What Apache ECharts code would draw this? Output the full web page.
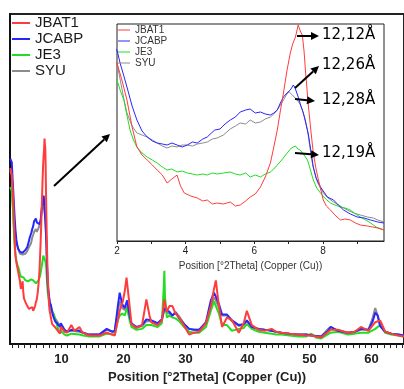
<!DOCTYPE html>
<html>
<head>
<meta charset="utf-8">
<script src="https://cdn.jsdelivr.net/npm/echarts@6/dist/echarts.min.js"></script>
<style>
  html, body { margin: 0; padding: 0; background: #fff; }
  #chart { width: 404px; height: 389px; }
</style>
</head>
<body>
<div id="chart"></div>
<script>
// series names
const names = ['JBAT1', 'JCABP', 'JE3', 'SYU'];
const colors = ['#ff3c3c', '#2626ff', '#22dd22', '#8c8c8c'];

// low angle part (2 - 9.8 °2θ), shown in the inset and in the main plot
const lowRed = [[1.75,185],[2.0,178],[2.15,160],[2.29,141],[2.44,114],[2.58,94],[2.73,86],[2.88,81],[3.03,76],[3.17,71],[3.32,66],[3.46,58],[3.6,62],[3.75,66],[3.85,55],[3.96,48],[4.15,45],[4.34,43],[4.5,40],[4.63,41],[4.78,37],[4.92,38],[5.1,37],[5.3,39],[5.45,35],[5.59,36],[5.75,40],[5.88,44],[6.03,47],[6.18,54],[6.32,64],[6.47,78],[6.57,94],[6.67,111],[6.76,130],[6.85,148],[6.95,170],[7.05,188],[7.12,197],[7.2,204],[7.28,216],[7.34,210],[7.4,206],[7.45,190],[7.49,171],[7.58,134],[7.65,110],[7.72,88],[7.8,72],[7.87,61],[8.01,41],[8.1,35],[8.22,31],[8.35,26],[8.51,21],[8.65,22],[8.8,21],[8.95,18],[9.09,16],[9.3,15],[9.45,14],[9.59,13],[9.78,11]];
const lowBlue = [[1.75,195],[2.0,191],[2.09,178],[2.2,165],[2.29,154],[2.44,135],[2.58,121],[2.73,110],[2.88,104],[3.03,100],[3.17,98],[3.32,97],[3.46,96],[3.6,98],[3.75,96],[3.9,94],[4.05,96],[4.2,99],[4.34,98],[4.5,102],[4.63,104],[4.75,108],[4.85,111],[5.0,112],[5.15,117],[5.3,121],[5.45,124],[5.59,129],[5.75,131],[5.88,132],[6.03,128],[6.18,129],[6.32,127],[6.47,126],[6.57,128],[6.67,131],[6.76,138],[6.85,144],[6.95,148],[7.05,151],[7.14,156],[7.2,152],[7.28,144],[7.35,136],[7.43,128],[7.5,118],[7.58,106],[7.65,90],[7.72,74],[7.8,63],[7.93,54],[8.13,44],[8.31,41],[8.45,36],[8.6,31],[8.8,27],[9.0,24],[9.2,23],[9.39,21],[9.6,19],[9.78,18]];
const lowGreen = [[1.75,165],[2.0,161],[2.1,150],[2.2,141],[2.3,124],[2.38,111],[2.48,101],[2.58,94],[2.73,88],[2.88,84],[3.03,81],[3.17,78],[3.32,74],[3.46,71],[3.6,72],[3.75,69],[3.9,70],[4.05,68],[4.2,67],[4.34,66],[4.5,67],[4.63,66],[4.78,68],[4.92,67],[5.1,68],[5.3,69],[5.45,67],[5.59,66],[5.75,68],[5.88,64],[6.03,66],[6.18,64],[6.32,67],[6.47,69],[6.57,72],[6.67,76],[6.8,81],[6.96,88],[7.08,93],[7.2,95],[7.27,92],[7.34,91],[7.45,86],[7.55,81],[7.63,72],[7.72,61],[7.82,53],[7.93,48],[8.08,42],[8.22,38],[8.35,36],[8.51,34],[8.65,33],[8.8,31],[8.95,27],[9.09,24],[9.25,21],[9.39,18],[9.55,14],[9.78,11]];
const lowGray = [[1.75,182],[2.0,178],[2.1,160],[2.2,142],[2.29,128],[2.44,115],[2.58,108],[2.73,106],[2.88,104],[3.03,101],[3.17,98],[3.32,95],[3.46,93],[3.6,95],[3.75,94],[3.9,96],[4.05,96],[4.2,95],[4.34,97],[4.5,98],[4.63,99],[4.78,102],[4.92,103],[5.1,106],[5.3,112],[5.45,115],[5.59,118],[5.75,117],[5.88,121],[6.03,118],[6.18,119],[6.32,122],[6.47,124],[6.57,127],[6.67,131],[6.76,136],[6.85,141],[6.95,147],[7.02,149],[7.11,146],[7.25,141],[7.33,137],[7.4,131],[7.48,122],[7.55,111],[7.62,94],[7.7,76],[7.78,66],[7.85,58],[8.01,48],[8.15,43],[8.31,39],[8.5,35],[8.71,31],[8.9,28],[9.09,26],[9.3,24],[9.47,23],[9.6,21],[9.78,19]];

// wide angle part (10 - 65 °2θ), main plot only
const wideRed = [[9.9,18],[10.5,13],[10.9,12],[11.6,20],[12.1,14],[12.9,18],[13.4,12],[14.5,9],[16.1,9],[17.3,12],[18.6,9],[19.4,35],[19.9,45],[20.2,55],[20.5,70],[20.8,52],[21.3,21],[22.1,17],[23.0,20],[23.7,47],[24.2,30],[24.5,23],[25.5,20],[26.2,25],[26.6,47],[27.0,34],[27.4,40],[27.9,40],[28.4,32],[29.0,28],[29.8,19],[30.6,10],[31.4,12],[32.2,13],[33.3,22],[34.1,40],[34.6,58],[34.9,67],[35.3,45],[35.9,18],[36.7,28],[37.5,25],[38.6,12],[39.4,22],[39.9,35],[40.7,20],[41.8,15],[42.8,14],[43.9,16],[44.6,13],[45.5,12],[46.8,11],[48.2,10],[49.5,9],[50.3,9],[51.9,7],[53.4,15],[54.6,15],[56.2,12],[57.3,13],[58.3,18],[59.5,14],[60.6,23],[61.4,25],[62.2,13],[63.2,11],[64.3,9],[65.2,8]];
const wideBlue = [[9.9,22],[10.5,15],[10.9,13],[11.6,15],[12.9,14],[13.5,12],[14.5,10],[16.1,10],[17.3,16],[18.2,13],[18.6,14],[19.1,40],[19.4,54],[19.8,42],[20.2,38],[20.6,46],[21.0,30],[21.3,22],[22.1,18],[23.0,20],[23.7,26],[24.5,25],[25.5,22],[26.2,26],[26.6,38],[27.0,35],[27.4,34],[27.9,30],[28.4,33],[29.0,27],[29.8,21],[30.6,16],[31.4,15],[32.2,15],[33.3,23],[34.1,46],[34.6,54],[34.9,50],[35.4,42],[35.9,31],[36.7,31],[37.5,25],[38.6,20],[39.4,21],[39.9,25],[40.7,18],[41.8,16],[42.8,15],[43.9,14],[44.6,13],[45.5,12],[46.8,11],[48.2,10],[49.5,10],[50.3,9],[51.9,8],[53.0,14],[53.4,18],[54.6,14],[56.2,12],[57.3,13],[58.3,16],[59.5,15],[60.2,24],[60.6,33],[61.0,30],[61.4,19],[62.2,13],[63.2,11],[64.3,10],[65.2,9]];
const wideGreen = [[9.9,14],[10.5,10],[10.9,9],[11.6,11],[12.9,10],[13.5,9],[14.5,8],[16.1,8],[17.3,11],[18.6,10],[19.1,25],[19.4,30],[19.8,32],[20.2,30],[20.6,38],[21.0,25],[21.3,18],[22.1,15],[23.0,16],[23.7,20],[24.5,20],[25.5,18],[26.2,22],[26.5,60],[26.6,77],[26.7,50],[27.0,28],[27.4,30],[27.9,28],[28.4,27],[29.0,24],[29.8,18],[30.6,13],[31.4,12],[32.2,12],[33.3,18],[34.1,35],[34.6,45],[34.9,47],[35.4,32],[35.9,20],[36.7,20],[37.5,14],[38.6,16],[39.4,17],[39.9,21],[40.7,16],[41.8,13],[42.8,12],[43.9,11],[44.6,10],[45.5,10],[46.8,9],[48.2,8],[49.5,8],[50.3,11],[51.0,7],[51.9,6],[53.4,12],[54.6,13],[56.2,10],[57.3,11],[58.3,12],[59.5,12],[60.6,16],[61.4,20],[61.8,17],[62.2,12],[63.2,10],[64.3,9],[65.2,8]];
const wideGray = [[9.9,20],[10.5,14],[10.9,13],[11.6,14],[12.9,13],[13.5,12],[14.5,10],[16.1,10],[17.3,15],[18.2,13],[18.6,13],[19.1,34],[19.4,45],[19.8,38],[20.2,36],[20.6,40],[21.0,28],[21.3,21],[22.1,17],[23.0,19],[23.7,24],[24.5,24],[25.5,21],[26.2,25],[26.6,36],[27.0,33],[27.4,32],[27.9,30],[28.4,34],[29.0,29],[29.8,21],[30.6,16],[31.4,15],[32.2,15],[33.3,21],[34.1,40],[34.6,49],[34.9,46],[35.4,38],[35.9,30],[36.7,30],[37.5,24],[38.6,19],[39.4,20],[39.9,24],[40.7,18],[41.8,16],[42.8,15],[43.9,14],[44.6,13],[45.5,12],[46.8,11],[48.2,10],[49.5,10],[50.3,9],[51.9,8],[53.0,16],[53.4,18],[54.6,14],[56.2,12],[57.3,13],[58.3,15],[59.5,15],[60.2,28],[60.6,38],[61.0,30],[61.4,19],[62.2,13],[63.2,11],[64.3,10],[65.2,9]];

// tick labels
const mainTicks = [];
for (let i = 2; i <= 65; i++) mainTicks.push(i);
const mainLabels = [10, 20, 30, 40, 50, 60];
const insetTicks = [2, 3, 4, 5, 6, 7, 8, 9];
const insetLabels = [2, 4, 6, 8];

// d-spacing annotations
const peakNotes = ['12,12Å', '12,26Å', '12,28Å', '12,19Å'];

const lows = [lowRed, lowBlue, lowGreen, lowGray];
const wides = [wideRed, wideBlue, wideGreen, wideGray];
const axisTitle = 'Position [°2Theta] (Copper (Cu))';
const font = 'Liberation Sans, Arial, sans-serif';

function arrow(x1, y1, x2, y2) {
  const a = Math.atan2(y2 - y1, x2 - x1);
  const len = 8, half = 4;
  const bx = x2 - len * Math.cos(a), by = y2 - len * Math.sin(a);
  const px = -Math.sin(a) * half, py = Math.cos(a) * half;
  return {
    type: 'group', z: 20,
    children: [
      { type: 'line', z: 20, shape: { x1: x1, y1: y1, x2: bx, y2: by }, style: { stroke: '#000', lineWidth: 2 } },
      { type: 'polygon', z: 20, shape: { points: [[x2, y2], [bx + px, by + py], [bx - px, by - py]] }, style: { fill: '#000' } }
    ]
  };
}

const chart = echarts.init(document.getElementById('chart'));

const series = [];
// main plot, drawn back to front
[3, 2, 1, 0].forEach(i => {
  series.push({
    name: names[i], type: 'line', xAxisIndex: 0, yAxisIndex: 0, z: 2,
    data: lows[i].filter(p => p[0] < 9.85).concat(wides[i]),
    showSymbol: false, symbol: 'none', animation: false,
    lineStyle: { color: colors[i], width: 2 }, itemStyle: { color: colors[i] }
  });
});
// inset
[3, 2, 1, 0].forEach(i => {
  series.push({
    name: names[i], type: 'line', xAxisIndex: 1, yAxisIndex: 1, z: 6,
    data: lows[i], showSymbol: false, symbol: 'none', animation: false,
    lineStyle: { color: colors[i], width: 1 }, itemStyle: { color: colors[i] }
  });
});

const noteY = [37, 67, 102, 155];
const graphics = peakNotes.map((t, k) => ({
  type: 'text', z: 20, left: 322, top: noteY[k] - 9,
  style: { text: t, fill: '#000', font: '15px "DejaVu Sans", sans-serif' }
}));
graphics.push(arrow(297, 36, 319, 36));
graphics.push(arrow(295, 88, 319, 66));
graphics.push(arrow(295, 99, 315, 101));
graphics.push(arrow(295, 153, 319, 155));
graphics.push(arrow(54, 186, 110, 134));

chart.setOption({
  animation: false,
  backgroundColor: '#fff',
  grid: [
    { left: 10, top: 14, right: -2, bottom: 42, show: true, borderColor: '#222', borderWidth: 2, z: 0 },
    { left: 117, top: 24, width: 267, height: 217, show: true, backgroundColor: '#fff', borderColor: '#222', borderWidth: 1, z: 5 }
  ],
  legend: [
    {
      data: names, orient: 'vertical', left: 12, top: 15, itemGap: 0, padding: 0,
      itemWidth: 18, itemHeight: 2, icon: 'rect', itemTextGap: 5, z: 8,
      textStyle: { fontSize: 15, lineHeight: 16, color: '#1a1a1a', fontFamily: font }
    },
    {
      data: names, orient: 'vertical', left: 118, top: 24.5, itemGap: 0, padding: 0,
      itemWidth: 12, itemHeight: 1, icon: 'rect', itemTextGap: 3, z: 8,
      textStyle: { fontSize: 10, lineHeight: 11, color: '#333', fontFamily: font }
    }
  ],
  xAxis: [
    {
      type: 'value', gridIndex: 0, min: 1.71, max: 65.24,
      name: axisTitle, nameLocation: 'middle', nameGap: 26,
      nameTextStyle: { fontSize: 13, fontWeight: 'bold', color: '#222', fontFamily: font },
      axisLine: { show: true, lineStyle: { color: '#111', width: 2 } },
      axisTick: { show: true, customValues: mainTicks, length: 4, lineStyle: { color: '#222', width: 1 } },
      axisLabel: { customValues: mainLabels, fontSize: 13, fontWeight: 'bold', color: '#222', margin: 9, fontFamily: font },
      splitLine: { show: false }
    },
    {
      type: 'value', gridIndex: 1, min: 2, max: 9.78, z: 6,
      name: axisTitle, nameLocation: 'middle', nameGap: 17,
      nameTextStyle: { fontSize: 10, color: '#333', fontFamily: font },
      axisLine: { show: true, lineStyle: { color: '#222', width: 1 } },
      axisTick: { show: true, customValues: insetTicks, length: 3, lineStyle: { color: '#222' } },
      axisLabel: { customValues: insetLabels, fontSize: 10, color: '#222', margin: 5, fontFamily: font },
      splitLine: { show: false }
    }
  ],
  yAxis: [
    {
      type: 'value', gridIndex: 0, min: 0, max: 347,
      axisLine: { show: true, lineStyle: { color: '#111', width: 2 } },
      axisTick: { show: false }, axisLabel: { show: false }, splitLine: { show: false }
    },
    {
      type: 'value', gridIndex: 1, min: 0, max: 217, z: 6,
      axisLine: { show: false }, axisTick: { show: false }, axisLabel: { show: false }, splitLine: { show: false }
    }
  ],
  series: series,
  graphic: graphics
});
</script>
</body>
</html>
